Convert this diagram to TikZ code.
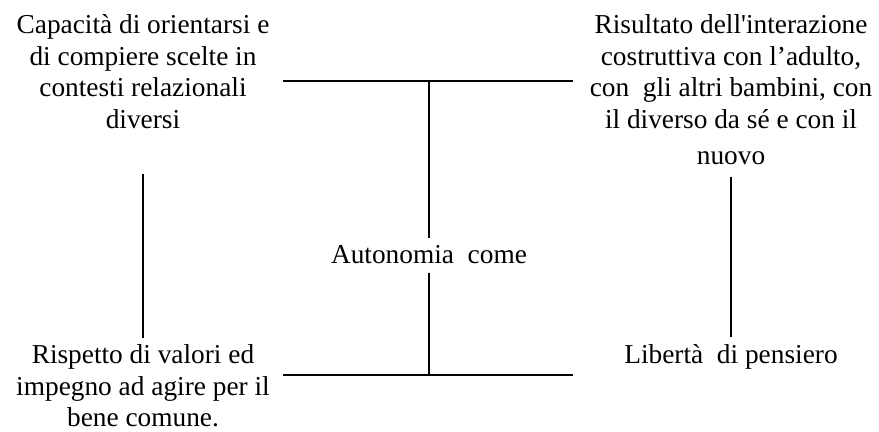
\documentclass[tikz,border=0pt]{standalone}
\usepackage{fontspec}
\setmainfont{Liberation Serif}
\usepackage{tikz}

\begin{document}
\begin{tikzpicture}[x=0.75pt, y=-0.75pt,
	box/.style={align=center, inner sep=0pt, font=\fontsize{20.5}{23.7}\selectfont},
	conn/.style={-, line width=1.5pt}]
	
	\useasboundingbox (0,0) rectangle (879,432);
	
	\node[box, anchor=north] (capacita)  at (143, 14.5)  {Capacità di orientarsi e\\di compiere scelte in\\contesti relazionali\\diversi};
	\node[box, anchor=north] (risultato) at (731, 14.5)  {Risultato dell\textquotesingle interazione\\costruttiva con l’adulto,\\con\ \ gli altri bambini, con\\il diverso da sé e con il\\[3pt]nuovo};
	\node[box, anchor=base]  (autonomia) at (429, 263)   {Autonomia\ \ come};
	\node[box, anchor=north] (rispetto)  at (143, 344.5) {Rispetto di valori ed\\impegno ad agire per il\\bene comune.};
	\node[box, anchor=base]  (liberta)   at (731, 363)   {Libertà\ \ di pensiero};
	
	\coordinate (topl) at (283, 81);
	\coordinate (topm) at (429, 81);
	\coordinate (topr) at (573, 81);
	\coordinate (botl) at (283, 375);
	\coordinate (botm) at (429, 375);
	\coordinate (botr) at (573, 375);
	
	\path[conn] (topl) edge (topr);
	\path[conn] (botl) edge (botr);
	\path[conn] (topm) edge[shorten >=5.25pt] (autonomia.north);
	\path[conn] (autonomia.south) edge[shorten <=6.75pt] (botm);
	\path[conn] (capacita.south) edge[shorten <=33.75pt, shorten >=4.7pt] (rispetto.north);
	\path[conn] (risultato.south) edge[shorten <=9pt, shorten >=4.9pt] (liberta.north);
	
\end{tikzpicture}
\end{document}
